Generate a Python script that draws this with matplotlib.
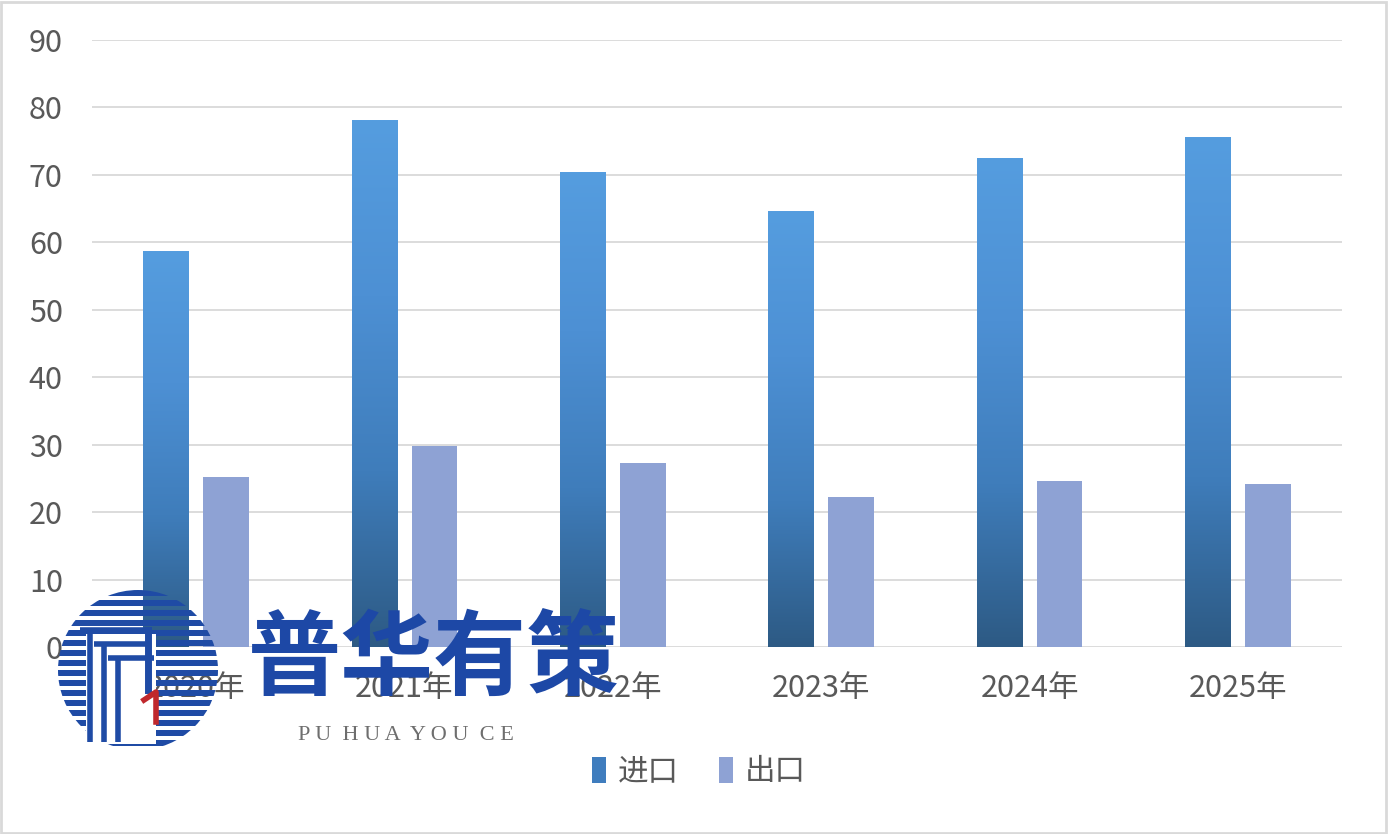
import numpy as np
import matplotlib
matplotlib.use("Agg")
import matplotlib.pyplot as plt
from matplotlib.colors import LinearSegmentedColormap
from matplotlib.patches import Patch, Rectangle, Circle

plt.rcParams['font.family'] = ['Noto Sans CJK SC', 'DejaVu Sans']

# ---- data ----
years = ["2020年", "2021年", "2022年", "2023年", "2024年", "2025年"]
imports = [58.7, 78.0, 70.4, 64.6, 72.5, 75.6]
exports = [25.2, 29.8, 27.3, 22.2, 24.6, 24.2]
series_names = ["进口", "出口"]
yticks = [0, 10, 20, 30, 40, 50, 60, 70, 80, 90]

W, H = 1388, 834
fig = plt.figure(figsize=(W / 100, H / 100), dpi=100)
fig.patch.set_facecolor("white")

ax = fig.add_axes([92 / W, (H - 647) / H, (1342 - 92) / W, (647 - 40) / H])
ax.set_facecolor("none")

n = len(years)
x = np.arange(n)
bw = 0.22
off = 0.144

grad_cmap = LinearSegmentedColormap.from_list("g", ["#2D5A84", "#3F7DBB", "#4D90D4", "#559DDF"])
grad = np.linspace(0, 1, 256).reshape(-1, 1)

for xi, v in zip(x, imports):
    ax.imshow(grad, extent=(xi - off - bw / 2, xi - off + bw / 2, 0, v),
              origin="lower", aspect="auto", cmap=grad_cmap, zorder=3,
              interpolation="bilinear")
ax.bar(x + off, exports, width=bw, color="#8EA2D4", zorder=3)

ax.set_xlim(-0.5, n - 0.5)
ax.set_ylim(0, 90)
ax.set_yticks(yticks)
ax.set_xticks(x)
ax.set_xticklabels(years)
ax.grid(axis="y", color="#D9D9D9", lw=1.3, zorder=0)
ax.set_axisbelow(True)
for s in ax.spines.values():
    s.set_visible(False)
ax.tick_params(axis="both", length=0, labelsize=22, colors="#595959")
ax.tick_params(axis="y", pad=21)
ax.tick_params(axis="x", pad=19)

# legend
handles = [Patch(facecolor="#3F7DBE", edgecolor="none"),
           Patch(facecolor="#8EA2D4", edgecolor="none")]
leg = fig.legend(handles, series_names, loc="center", bbox_to_anchor=(699 / W, (H - 772) / H),
                 ncol=2, frameon=False, fontsize=22, handlelength=0.45, handleheight=0.95,
                 handletextpad=0.4, columnspacing=1.3)
for t in leg.get_texts():
    t.set_color("#595959")

# watermark overlay
wm = fig.add_axes([0, 0, 1, 1])
wm.set_xlim(0, W)
wm.set_ylim(H, 0)
wm.axis("off")
wm.set_zorder(5)
cx, cy, r = 138, 670, 80
clip = Circle((cx, cy), r, transform=wm.transData)
for yy in np.arange(cy - r, cy + r, 10):
    rect = Rectangle((cx - r, yy), 2 * r, 5.5, color="#1F4BA5", lw=0)
    wm.add_patch(rect)
    rect.set_clip_path(clip)
# inner white region with nested L shapes
wm.add_patch(Rectangle((cx - 52, cy - 36), 70, 110, color="white", lw=0))
for k, d in enumerate([0, 14, 28]):
    wm.plot([cx - 58 + d, cx + 8 + d * 0.3], [cy - 40 + d, cy - 40 + d], color="#1F4BA5", lw=4,
            solid_capstyle="butt")
    wm.plot([cx - 48 + d, cx - 48 + d], [cy - 40 + d, cy + 72], color="#1F4BA5", lw=4,
            solid_capstyle="butt")
wm.plot([cx + 10, cx + 10], [cy - 40, cy + 20], color="#1F4BA5", lw=5)
wm.plot([cx + 6, cx + 18, cx + 18], [cy + 30, cy + 22, cy + 52], color="#C0282D", lw=4)

wm.text(248, 660, "普华有策", fontsize=67, fontweight="bold", color="#1D48A6",
        va="center", ha="left")
wm.text(298, 736, "P U  H U A  Y O U  C E", fontsize=16, color="#6E6E6E", va="center",
        ha="left", family="Liberation Serif", fontstretch="condensed")

# outer border
fig.add_artist(Rectangle((1 / W, 1 / H), 1 - 3 / W, 1 - 3 / H, transform=fig.transFigure,
                         fill=False, edgecolor="#D9D9D9", lw=2))

fig.savefig("out.png", dpi=100)
